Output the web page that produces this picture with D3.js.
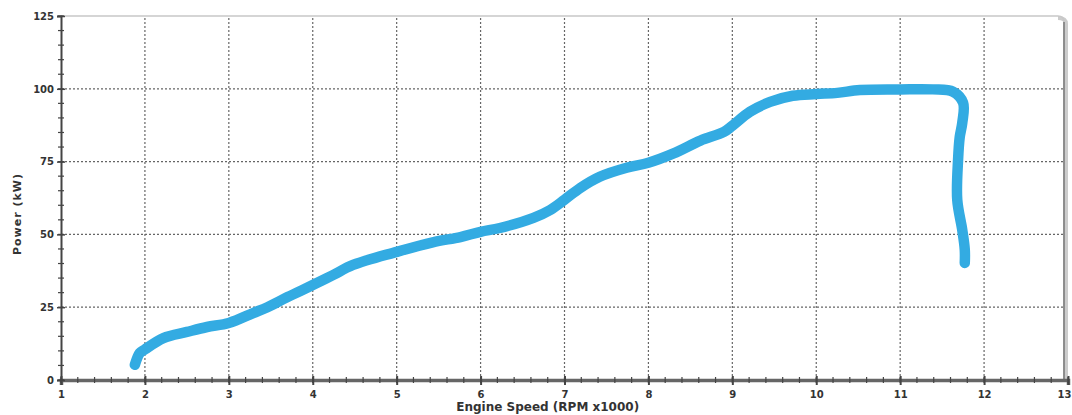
<!DOCTYPE html>
<html>
<head>
<meta charset="utf-8">
<script src="https://cdn.jsdelivr.net/npm/d3@7"></script>
<style>
  body { margin: 0; background: #fff; }
  .tick text { font-family: "DejaVu Sans", Verdana, sans-serif; font-weight: bold; font-size: 10px; fill: #333; }
  .title { font-family: "DejaVu Sans", Verdana, sans-serif; font-weight: bold; fill: #333; }
</style>
</head>
<body>
<div id="graph"></div>
<script>
// engine speed (x1000 rpm) and power (kW)
const rpm = [1.88, 1.94, 2.0, 2.22, 2.5, 2.74, 3.0, 3.29, 3.46, 3.7, 4.0, 4.24, 4.48, 5.0, 5.43, 5.76, 6.0, 6.23, 6.63, 6.83, 7.0, 7.19, 7.42, 7.74, 8.0, 8.3, 8.62, 8.9, 9.0, 9.21, 9.45, 9.72, 10.0, 10.25, 10.52, 11.0, 11.39, 11.63, 11.75, 11.74, 11.71, 11.69, 11.68, 11.74, 11.77, 11.77];
const power = [5.2, 9.3, 10.5, 14.4, 16.5, 18.2, 19.6, 23, 25, 28.5, 32.6, 36, 39.5, 44, 47.3, 49.1, 50.9, 52.2, 55.7, 58.4, 61.9, 66, 69.8, 72.9, 74.6, 77.8, 82.2, 85.2, 87.3, 92.1, 95.5, 97.6, 98.2, 98.6, 99.6, 99.8, 99.8, 99, 95.2, 88.3, 83.5, 75.6, 61.9, 51.5, 44.7, 40.2];
const xTicks = [1, 2, 3, 4, 5, 6, 7, 8, 9, 10, 11, 12, 13];
const yTicks = [0, 25, 50, 75, 100, 125];

const width = 1072, height = 415;
const x0 = 61, x1 = 1068, y0 = 380, y1 = 16;

const x = d3.scaleLinear().domain([1, 13]).range([x0, x1]);
const y = d3.scaleLinear().domain([0, 125]).range([y0, y1]);

const svg = d3.select("#graph").append("svg")
    .attr("width", width)
    .attr("height", height);

const xr = x(13) - 4;

// frame: light top edge, shaded right edge with rounded corner
svg.append("path")
    .attr("d", `M${xr - 6},${y1 + 2} Q${xr + 2},${y1 + 2} ${xr + 2},${y1 + 8} L${xr + 2},${y0 + 2}`)
    .attr("fill", "none")
    .attr("stroke", "#ccc")
    .attr("stroke-width", 4);
svg.append("path")
    .attr("d", `M${x0},${y1} L${xr - 6},${y1} Q${xr},${y1} ${xr},${y1 + 6} L${xr},${y0}`)
    .attr("fill", "none")
    .attr("stroke", "#c8c8c8")
    .attr("stroke-width", 1.5);
svg.append("path")
    .attr("d", `M${xr},${y1 + 6} L${xr},${y0}`)
    .attr("stroke", "#777")
    .attr("stroke-width", 1.5);

// grid
svg.append("g")
    .selectAll("line")
    .data(xTicks.slice(1, -1))
    .join("line")
    .attr("x1", d => x(d)).attr("x2", d => x(d))
    .attr("y1", y1 + 2).attr("y2", y0)
    .attr("stroke", "#666")
    .attr("stroke-width", 1.2)
    .attr("stroke-dasharray", "2,2");

svg.append("g")
    .selectAll("line")
    .data(yTicks.slice(1, -1))
    .join("line")
    .attr("x1", x0).attr("x2", xr)
    .attr("y1", d => y(d)).attr("y2", d => y(d))
    .attr("stroke", "#666")
    .attr("stroke-width", 1.2)
    .attr("stroke-dasharray", "2,2");

// x axis
const xAxis = svg.append("g")
    .attr("transform", `translate(0,${y0})`)
    .call(d3.axisBottom(x).tickValues(xTicks).tickSize(5).tickPadding(6).tickFormat(d3.format("d")));
xAxis.select(".domain").attr("stroke", "#666").attr("stroke-width", 3.5);
xAxis.selectAll(".tick line").attr("stroke", "#444").attr("stroke-width", 2).attr("y1", -4);
// last label sits against the window edge
xAxis.selectAll(".tick text").filter(d => d === 13).attr("text-anchor", "end").attr("dx", 3);

svg.append("g")
    .selectAll("line")
    .data(d3.range(1, 13.01, 0.2))
    .join("line")
    .attr("x1", d => x(d)).attr("x2", d => x(d))
    .attr("y1", y0 - 3).attr("y2", y0 + 3)
    .attr("stroke", "#444")
    .attr("stroke-width", 1.2);

// y axis
const yAxis = svg.append("g")
    .attr("transform", `translate(${x0},0)`)
    .call(d3.axisLeft(y).tickValues(yTicks).tickSize(4).tickPadding(3));
yAxis.select(".domain").attr("stroke", "#444").attr("stroke-width", 2);
yAxis.selectAll(".tick line").attr("stroke", "#444").attr("stroke-width", 1.5).attr("x2", 4).attr("x1", -4);

svg.append("g")
    .selectAll("line")
    .data(d3.range(0, 125.01, 5))
    .join("line")
    .attr("x1", x0 - 3).attr("x2", x0 + 3)
    .attr("y1", d => y(d)).attr("y2", d => y(d))
    .attr("stroke", "#444")
    .attr("stroke-width", 1.2);

// power trace
const line = d3.line()
    .x((d, i) => x(rpm[i]))
    .y(d => y(d))
    .curve(d3.curveCatmullRom);

svg.append("path")
    .datum(power)
    .attr("d", line)
    .attr("fill", "none")
    .attr("stroke", "#33abe2")
    .attr("stroke-width", 10.5)
    .attr("stroke-linecap", "round")
    .attr("stroke-linejoin", "round");

// titles
svg.append("text")
    .attr("class", "title")
    .attr("x", x(6.8)).attr("y", 411)
    .attr("text-anchor", "middle")
    .attr("font-size", 12)
    .text("Engine Speed (RPM x1000)");

svg.append("text")
    .attr("class", "title")
    .attr("transform", `translate(21,${y(57)}) rotate(-90)`)
    .attr("text-anchor", "middle")
    .attr("font-size", 11)
    .attr("letter-spacing", 1)
    .text("Power (kW)");
</script>
</body>
</html>
